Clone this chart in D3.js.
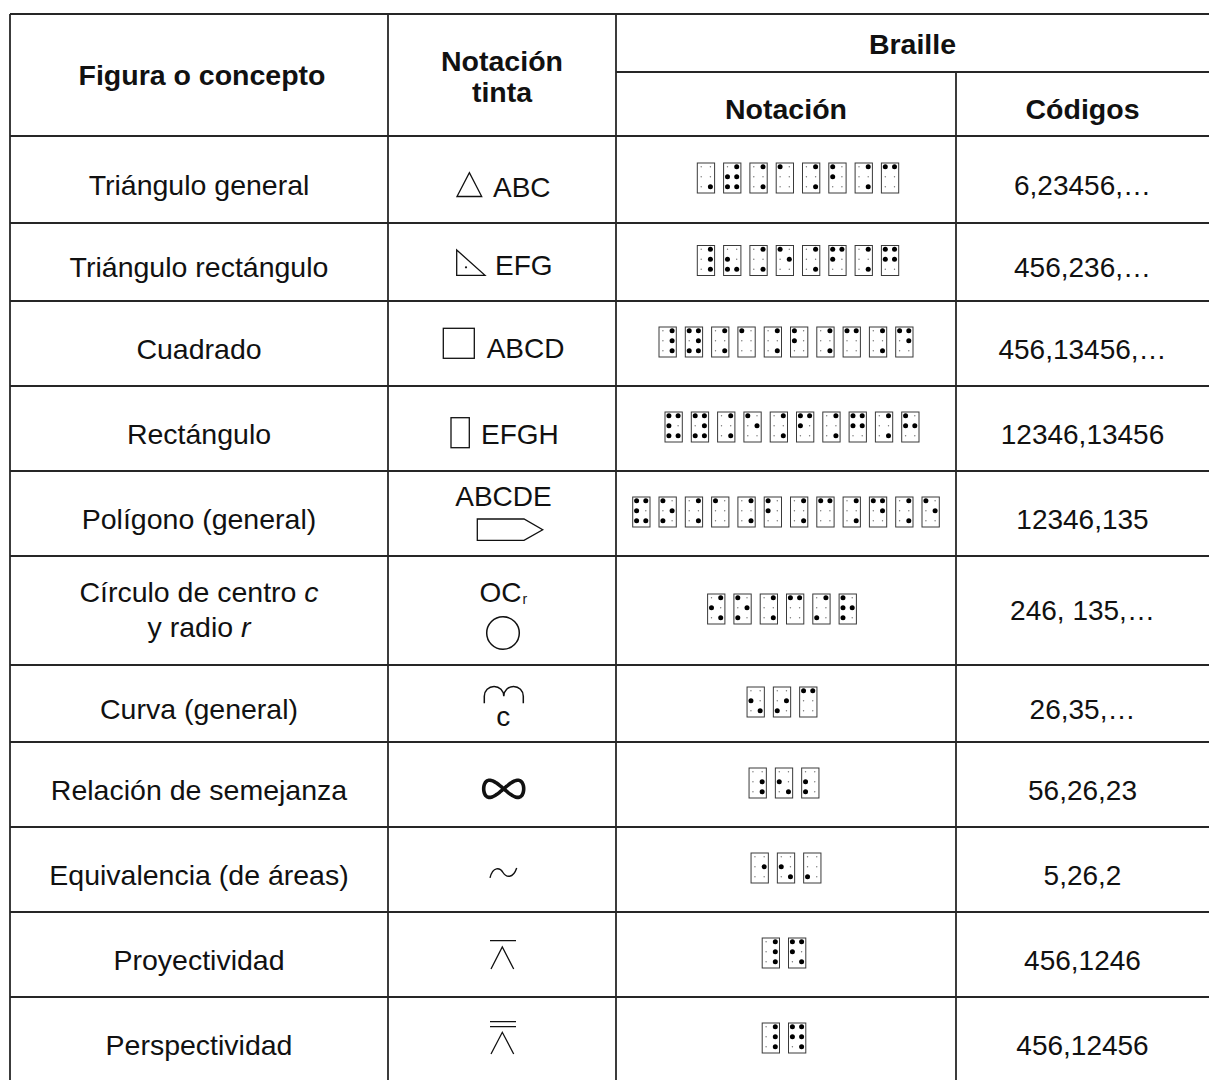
<!DOCTYPE html>
<html><head><meta charset="utf-8">
<script src="https://cdn.jsdelivr.net/npm/d3@7"></script>
<style>
html,body{margin:0;padding:0;background:#fff;}
svg{display:block;font-family:"Liberation Sans",Arial,Helvetica,sans-serif;}
</style></head>
<body>
<svg id="t" width="1209" height="1080"></svg>
<script>
// ---- data ----
const concepts = [
  "Triángulo general", "Triángulo rectángulo", "Cuadrado", "Rectángulo",
  "Polígono (general)", "Círculo de centro c|y radio r", "Curva (general)",
  "Relación de semejanza", "Equivalencia (de áreas)", "Proyectividad", "Perspectividad"
];
const inkLabels = ["ABC", "EFG", "ABCD", "EFGH", "ABCDE", "OC", "c", "", "", "", ""];
const inkSymbols = ["triangle", "rightTriangle", "square", "rect", "pentagon", "circle",
  "arches", "infinity", "tilde", "wedge1", "wedge2"];
const brailleCells = [
  ["6", "23456", "46", "1", "46", "12", "46", "14"],
  ["456", "236", "46", "15", "46", "124", "46", "1245"],
  ["456", "13456", "46", "1", "46", "12", "46", "14", "46", "145"],
  ["12346", "13456", "46", "15", "46", "124", "46", "1245", "46", "125"],
  ["12346", "135", "46", "1", "46", "12", "46", "14", "46", "145", "46", "15"],
  ["246", "135", "46", "14", "34", "1235"],
  ["26", "35", "14"],
  ["56", "26", "23"],
  ["5", "26", "3"],
  ["456", "1246"],
  ["456", "12456"]
];
const codes = ["6,23456,…", "456,236,…", "456,13456,…", "12346,13456", "12346,135",
  "246, 135,…", "26,35,…", "56,26,23", "5,26,2", "456,1246", "456,12456"];
const headers = {col0: "Figura o concepto", col1: ["Notación", "tinta"], braille: "Braille",
  col2: "Notación", col3: "Códigos"};

// ---- layout ----
const colX = [10, 388, 616, 956, 1212];
const headTop = 14, headMid = 72, headBottom = 136;
const rowHeights = [87, 78, 85, 85, 85, 109, 77, 85, 85, 85, 85];
const brailleShift = [12, 12, 0, 6, 0, -4, -4, -2, 0, -2, -2];
const rowTops = [];
rowHeights.reduce((acc, h) => { rowTops.push(acc); return acc + h; }, headBottom);
const cy = i => rowTops[i] + rowHeights[i] / 2;

const svg = d3.select("#t");
const lineColor = "#262626", lw = 1.8;
const bodySize = 28.5, codeSize = 28, headSize = 28.5;

// grid
const g = svg.append("g");
const bottom = rowTops[10] + rowHeights[10];
const hLines = [{y: headTop, x1: colX[0], x2: colX[4]}, {y: headMid, x1: colX[2], x2: colX[4]},
  {y: headBottom, x1: colX[0], x2: colX[4]}]
  .concat(rowTops.slice(1).map(y => ({y, x1: colX[0], x2: colX[4]})))
  .concat([{y: bottom, x1: colX[0], x2: colX[4]}]);
g.selectAll("line.h").data(hLines).join("line").attr("class", "h")
  .attr("x1", d => d.x1).attr("x2", d => d.x2).attr("y1", d => d.y).attr("y2", d => d.y)
  .attr("stroke", lineColor).attr("stroke-width", lw);
const vLines = [{x: colX[0], y1: headTop, y2: bottom}, {x: colX[1], y1: headTop, y2: bottom},
  {x: colX[2], y1: headTop, y2: bottom}, {x: colX[3], y1: headMid, y2: bottom}];
g.selectAll("line.v").data(vLines).join("line").attr("class", "v")
  .attr("x1", d => d.x).attr("x2", d => d.x).attr("y1", d => d.y1).attr("y2", d => d.y2)
  .attr("stroke", lineColor).attr("stroke-width", lw);

// headers
const hs = svg.append("g").attr("font-weight", "bold").attr("font-size", headSize).attr("fill", "#111")
  .attr("text-anchor", "middle");
hs.append("text").attr("x", (colX[0] + colX[1]) / 2 + 3).attr("y", 85).text(headers.col0);
hs.append("text").attr("x", (colX[1] + colX[2]) / 2).attr("y", 71).text(headers.col1[0]);
hs.append("text").attr("x", (colX[1] + colX[2]) / 2).attr("y", 102).text(headers.col1[1]);
hs.append("text").attr("x", (colX[2] + colX[4] - 3) / 2).attr("y", 54).text(headers.braille);
hs.append("text").attr("x", (colX[2] + colX[3]) / 2).attr("y", 119).text(headers.col2);
hs.append("text").attr("x", (colX[3] + colX[4] - 3) / 2).attr("y", 119).text(headers.col3);

// concept column
const c0 = (colX[0] + colX[1]) / 2;
concepts.forEach((t, i) => {
  const tx = svg.append("text").attr("x", c0).attr("text-anchor", "middle")
    .attr("font-size", bodySize).attr("fill", "#111");
  if (t.includes("|")) {
    const [a, b] = t.split("|");
    tx.attr("y", cy(i) - 9);
    tx.append("tspan").text(a.slice(0, -1));
    tx.append("tspan").attr("font-style", "italic").text(a.slice(-1));
    const t2 = svg.append("text").attr("x", c0).attr("y", cy(i) + 26).attr("text-anchor", "middle")
      .attr("font-size", bodySize).attr("fill", "#111");
    t2.append("tspan").text(b.slice(0, -1));
    t2.append("tspan").attr("font-style", "italic").text(b.slice(-1));
  } else {
    tx.attr("y", cy(i) + 15).text(t);
  }
});

// ink notation column
const c1 = (colX[1] + colX[2]) / 2;
const ink = svg.append("g").attr("fill", "none").attr("stroke", "#111").attr("stroke-width", 1.3);
const lbl = (x, y, s, size) => svg.append("text").attr("x", x).attr("y", y)
  .attr("font-size", size || 28).attr("fill", "#111").text(s);
inkSymbols.forEach((s, i) => {
  const X = c1, Y = cy(i), L = inkLabels[i];
  const p = d3.path();
  if (s === "triangle") {
    p.moveTo(X - 45, Y + 17); p.lineTo(X - 32.6, Y - 6.8); p.lineTo(X - 20.3, Y + 17); p.closePath();
    ink.append("path").attr("d", p);
    lbl(X - 9, Y + 17, L);
  } else if (s === "rightTriangle") {
    p.moveTo(X - 45.3, Y - 12); p.lineTo(X - 45.3, Y + 13.3); p.lineTo(X - 17, Y + 13.3); p.closePath();
    ink.append("path").attr("d", p);
    svg.append("circle").attr("cx", X - 36).attr("cy", Y + 5.3).attr("r", 1.1).attr("fill", "#111");
    lbl(X - 7, Y + 12.5, L);
  } else if (s === "square") {
    ink.append("rect").attr("x", X - 58.7).attr("y", Y - 15.2).attr("width", 31).attr("height", 30);
    lbl(X - 15.3, Y + 14.8, L);
  } else if (s === "rect") {
    ink.append("rect").attr("x", X - 51).attr("y", Y - 10.8).attr("width", 18.3).attr("height", 30);
    lbl(X - 21, Y + 15.5, L);
  } else if (s === "pentagon") {
    lbl(X + 1.5, Y - 7.5, L).attr("text-anchor", "middle");
    p.moveTo(X - 24.7, Y + 5.5); p.lineTo(X + 22, Y + 5.5); p.lineTo(X + 40.7, Y + 16.2);
    p.lineTo(X + 22, Y + 26.8); p.lineTo(X - 24.7, Y + 26.8); p.closePath();
    ink.append("path").attr("d", p);
  } else if (s === "circle") {
    lbl(X - 22.5, Y - 8.8, L);
    lbl(X + 20.5, Y - 7, "r", 14);
    ink.append("circle").attr("cx", X + 1).attr("cy", Y + 22.5).attr("r", 16.3).attr("stroke-width", 1.5);
  } else if (s === "arches") {
    p.moveTo(X - 17.7, Y - 0.2); p.lineTo(X - 17.7, Y - 7.3);
    p.arc(X - 7.95, Y - 7.3, 9.75, Math.PI, 2 * Math.PI);
    p.arc(X + 11.55, Y - 7.3, 9.75, Math.PI, 2 * Math.PI);
    p.lineTo(X + 21.3, Y - 0.2);
    ink.append("path").attr("d", p).attr("stroke-width", 1.5);
    lbl(X + 1.3, Y + 22.5, L).attr("text-anchor", "middle");
  } else if (s === "infinity") {
    const cxx = X + 1.7, cyy = Y + 4.3;
    const pts = d3.range(0, 2 * Math.PI, Math.PI / 60)
      .map(t => [cxx + 20 * Math.cos(t), cyy + 8.6 * Math.sin(2 * t)]);
    ink.append("path").attr("d", d3.line().curve(d3.curveCatmullRomClosed)(pts))
      .attr("stroke-width", 3.6);
  } else if (s === "tilde") {
    p.moveTo(X - 12, Y + 8.3);
    p.bezierCurveTo(X - 9, Y - 3.5, X - 2, Y - 2, X + 1, Y + 3);
    p.bezierCurveTo(X + 4, Y + 8, X + 11, Y + 9.5, X + 14.7, Y - 1.5);
    ink.append("path").attr("d", p).attr("stroke-width", 1.4);
  } else if (s === "wedge1" || s === "wedge2") {
    const bars = s === "wedge1" ? [-13.8] : [-17.8, -12.8];
    bars.forEach(b => { p.moveTo(X - 12, Y + b); p.lineTo(X + 14, Y + b); });
    const top = s === "wedge1" ? -7.5 : -7.2;
    p.moveTo(X - 11, Y + 14.5); p.lineTo(X + 0.3, Y + top); p.lineTo(X + 11.7, Y + 14.5);
    ink.append("path").attr("d", p).attr("stroke-width", 1.3);
  }
});

// braille column
const c2 = (colX[2] + colX[3]) / 2;
const cellW = 18.3, cellH = 31, step = 26.3;
const dotX = [4.4, 13.6], dotY = [4.3, 14.3, 24.3];
const dotPos = {1: [0, 0], 2: [0, 1], 3: [0, 2], 4: [1, 0], 5: [1, 1], 6: [1, 2]};
brailleCells.forEach((cells, i) => {
  const total = cells.length * step - (step - cellW);
  const x0 = c2 - total / 2 + brailleShift[i];
  const xs = d3.scaleLinear().domain([0, 1]).range([x0, x0 + step]);
  const top = cy(i) - cellH / 2 - 1.5;
  const cg = svg.append("g").selectAll("g").data(cells).join("g")
    .attr("transform", (d, k) => `translate(${xs(k)},${top})`);
  cg.append("rect").attr("x", 0.5).attr("y", 0.5).attr("width", cellW - 1).attr("height", cellH - 1)
    .attr("fill", "#fff").attr("stroke", "#3a3a3a").attr("stroke-width", 1);
  cg.each(function (d) {
    const sel = d3.select(this);
    [1, 2, 3, 4, 5, 6].forEach(n => {
      const on = d.includes(String(n));
      const [c, r] = dotPos[n];
      sel.append("circle").attr("cx", dotX[c]).attr("cy", dotY[r])
        .attr("r", on ? 2.5 : 0.7).attr("fill", on ? "#000" : "#777");
    });
  });
});

// codes column
const c3 = (colX[3] + colX[4] - 3) / 2;
svg.append("g").selectAll("text").data(codes).join("text")
  .attr("x", c3).attr("y", (d, i) => i === 5 ? cy(i) + 9 : cy(i) + 15)
  .attr("text-anchor", "middle").attr("font-size", codeSize).attr("fill", "#111").text(d => d);
</script>
</body></html>
